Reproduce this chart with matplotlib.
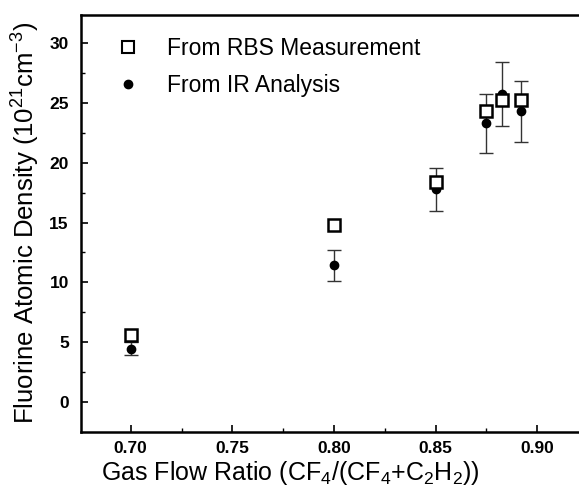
import matplotlib
matplotlib.use("Agg")
import matplotlib.pyplot as plt
from matplotlib.lines import Line2D
import numpy as np

plt.rcParams['font.family'] = ['Liberation Sans', 'DejaVu Sans']
plt.rcParams['mathtext.fontset'] = 'custom'
plt.rcParams['mathtext.rm'] = 'Liberation Sans'
plt.rcParams['mathtext.it'] = 'Liberation Sans'

# RBS measurement (open squares)
rbs_x = [0.70, 0.80, 0.85, 0.875, 0.8828, 0.8918]
rbs_y = [5.6, 14.8, 18.4, 24.3, 25.3, 25.25]

# IR analysis (filled dots with error bars)
ir_x = [0.70, 0.80, 0.85, 0.875, 0.8828, 0.8918]
ir_y = [4.45, 11.45, 17.8, 23.3, 25.75, 24.3]
ir_err = [0.55, 1.3, 1.8, 2.45, 2.7, 2.57]

x_ticks = [0.70, 0.75, 0.80, 0.85, 0.90]
y_ticks = [0, 5, 10, 15, 20, 25, 30]

fig = plt.figure(figsize=(5.79, 4.87), dpi=100)
ax = fig.add_axes([0.1404, 0.1135, 0.8596, 0.8563])

ax.errorbar(ir_x, ir_y, yerr=ir_err, fmt='o', color='black', ms=6,
            ecolor='#333333', elinewidth=1.0, capsize=5, capthick=1.0, zorder=2)
ax.plot(rbs_x, rbs_y, 's', mfc='white', mec='black', mew=1.8, ms=8, zorder=3)

ax.set_xlim(0.6757, 0.9205)
ax.set_ylim(-2.5, 32.4)
ax.set_xticks(x_ticks)
ax.set_xticklabels(['%.2f' % v for v in x_ticks])
ax.set_yticks(y_ticks)
ax.set_xticks(np.arange(0.725, 0.92, 0.05), minor=True)
ax.set_yticks(np.arange(2.5, 32, 5), minor=True)

ax.tick_params(which='major', direction='in', length=5, width=1.2, labelsize=12.5)
ax.tick_params(which='minor', direction='in', length=3, width=1.0)
for lab in ax.get_xticklabels() + ax.get_yticklabels():
    lab.set_fontweight('bold')
ax.tick_params(axis='x', pad=7)
ax.tick_params(axis='y', pad=9)

for side in ['left', 'bottom', 'top']:
    ax.spines[side].set_linewidth(1.8)
ax.spines['right'].set_visible(False)

ax.set_xlabel('Gas Flow Ratio (CF$_4$/(CF$_4$+C$_2$H$_2$))', fontsize=18)
ax.xaxis.set_label_coords(0.42, -0.065)
ax.set_ylabel('Fluorine Atomic Density (10$^{21}$cm$^{-3}$)', fontsize=18.5, labelpad=5)

handles = [
    Line2D([], [], ls='none', marker='s', mfc='white', mec='black', mew=1.5, ms=9),
    Line2D([], [], ls='none', marker='o', color='black', ms=6),
]
labels = ['From RBS Measurement', 'From IR Analysis']
ax.legend(handles, labels, loc='upper left', bbox_to_anchor=(0.03, 0.995),
          frameon=False, fontsize=16.5, handlelength=1.0, handletextpad=1.2,
          labelspacing=0.6, numpoints=1)

fig.savefig('out.png', dpi=100)
